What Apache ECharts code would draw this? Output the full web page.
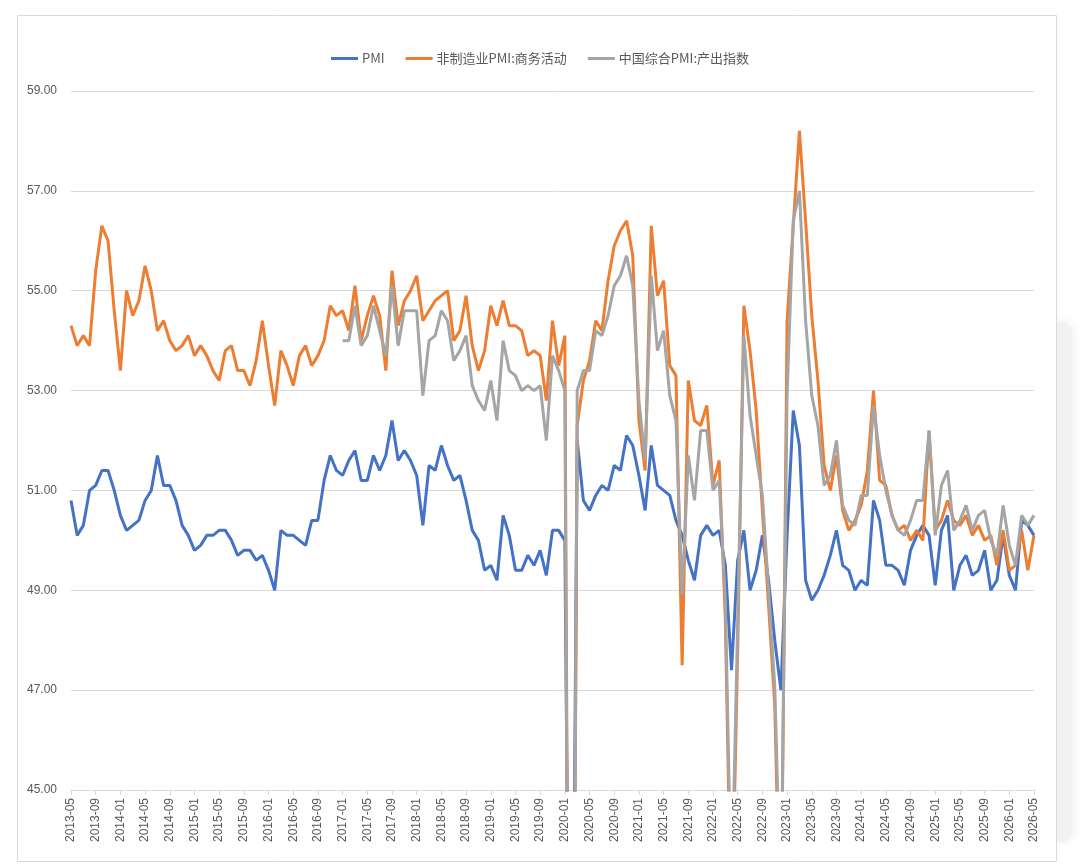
<!DOCTYPE html>
<html>
<head>
<meta charset="utf-8">
<title>PMI</title>
<script src="https://cdn.jsdelivr.net/npm/echarts@6/dist/echarts.min.js"></script>
<style>
  html, body { margin: 0; padding: 0; background: #fff; }
  #chart { width: 1080px; height: 867px; }
</style>
</head>
<body>
<div id="chart"></div>
<script>
// 月份 2013-05 ~ 2026-05
var months = [];
for (var y = 2013; y <= 2026; y++) {
    for (var m = 1; m <= 12; m++) {
        if ((y === 2013 && m < 5) || (y === 2026 && m > 5)) continue;
        months.push(y + '-' + (m < 10 ? '0' + m : m));
    }
}

// 制造业PMI
var pmi = [
    50.8, 50.1, 50.3, 51.0, 51.1, 51.4, 51.4, 51.0,                   // 2013
    50.5, 50.2, 50.3, 50.4, 50.8, 51.0, 51.7, 51.1, 51.1, 50.8, 50.3, 50.1, // 2014
    49.8, 49.9, 50.1, 50.1, 50.2, 50.2, 50.0, 49.7, 49.8, 49.8, 49.6, 49.7, // 2015
    49.4, 49.0, 50.2, 50.1, 50.1, 50.0, 49.9, 50.4, 50.4, 51.2, 51.7, 51.4, // 2016
    51.3, 51.6, 51.8, 51.2, 51.2, 51.7, 51.4, 51.7, 52.4, 51.6, 51.8, 51.6, // 2017
    51.3, 50.3, 51.5, 51.4, 51.9, 51.5, 51.2, 51.3, 50.8, 50.2, 50.0, 49.4, // 2018
    49.5, 49.2, 50.5, 50.1, 49.4, 49.4, 49.7, 49.5, 49.8, 49.3, 50.2, 50.2, // 2019
    50.0, 35.7, 52.0, 50.8, 50.6, 50.9, 51.1, 51.0, 51.5, 51.4, 52.1, 51.9, // 2020
    51.3, 50.6, 51.9, 51.1, 51.0, 50.9, 50.4, 50.1, 49.6, 49.2, 50.1, 50.3, // 2021
    50.1, 50.2, 49.5, 47.4, 49.6, 50.2, 49.0, 49.4, 50.1, 49.2, 48.0, 47.0, // 2022
    50.1, 52.6, 51.9, 49.2, 48.8, 49.0, 49.3, 49.7, 50.2, 49.5, 49.4, 49.0, // 2023
    49.2, 49.1, 50.8, 50.4, 49.5, 49.5, 49.4, 49.1, 49.8, 50.1, 50.3, 50.1, // 2024
    49.1, 50.2, 50.5, 49.0, 49.5, 49.7, 49.3, 49.4, 49.8, 49.0, 49.2, 50.1, // 2025
    49.3, 49.0, 50.4, 50.3, 50.1                                      // 2026
];

// 非制造业PMI:商务活动
var nonMfg = [
    54.3, 53.9, 54.1, 53.9, 55.4, 56.3, 56.0, 54.6,
    53.4, 55.0, 54.5, 54.8, 55.5, 55.0, 54.2, 54.4, 54.0, 53.8, 53.9, 54.1,
    53.7, 53.9, 53.7, 53.4, 53.2, 53.8, 53.9, 53.4, 53.4, 53.1, 53.6, 54.4,
    53.5, 52.7, 53.8, 53.5, 53.1, 53.7, 53.9, 53.5, 53.7, 54.0, 54.7, 54.5,
    54.6, 54.2, 55.1, 54.0, 54.5, 54.9, 54.5, 53.4, 55.4, 54.3, 54.8, 55.0,
    55.3, 54.4, 54.6, 54.8, 54.9, 55.0, 54.0, 54.2, 54.9, 53.9, 53.4, 53.8,
    54.7, 54.3, 54.8, 54.3, 54.3, 54.2, 53.7, 53.8, 53.7, 52.8, 54.4, 53.5,
    54.1, 29.6, 52.3, 53.2, 53.6, 54.4, 54.2, 55.2, 55.9, 56.2, 56.4, 55.7,
    52.4, 51.4, 56.3, 54.9, 55.2, 53.5, 53.3, 47.5, 53.2, 52.4, 52.3, 52.7,
    51.1, 51.6, 48.4, 41.9, 47.8, 54.7, 53.8, 52.6, 50.6, 48.7, 46.7, 41.6,
    54.4, 56.3, 58.2, 56.4, 54.5, 53.2, 51.5, 51.0, 51.7, 50.6, 50.2, 50.4,
    50.7, 51.4, 53.0, 51.2, 51.1, 50.5, 50.2, 50.3, 50.0, 50.2, 50.0, 52.2,
    50.2, 50.4, 50.8, 50.4, 50.3, 50.5, 50.1, 50.3, 50.0, 50.1, 49.5, 50.2,
    49.4, 49.5, 50.2, 49.4, 50.1
];

// 中国综合PMI:产出指数 (2017-01 起)
var compOut = [
    null, null, null, null, null, null, null, null,
    null, null, null, null, null, null, null, null, null, null, null, null,
    null, null, null, null, null, null, null, null, null, null, null, null,
    null, null, null, null, null, null, null, null, null, null, null, null,
    54.0, 54.0, 54.7, 53.9, 54.1, 54.7, 54.2, 53.7, 55.1, 53.9, 54.6, 54.6,
    54.6, 52.9, 54.0, 54.1, 54.6, 54.4, 53.6, 53.8, 54.1, 53.1, 52.8, 52.6,
    53.2, 52.4, 54.0, 53.4, 53.3, 53.0, 53.1, 53.0, 53.1, 52.0, 53.7, 53.4,
    53.0, 28.9, 53.0, 53.4, 53.4, 54.2, 54.1, 54.5, 55.1, 55.3, 55.7, 55.1,
    52.8, 51.6, 55.3, 53.8, 54.2, 52.9, 52.4, 48.9, 51.7, 50.8, 52.2, 52.2,
    51.0, 51.2, 48.8, 42.7, 48.4, 54.1, 52.5, 51.7, 50.9, 49.0, 47.1, 42.6,
    52.9, 56.4, 57.0, 54.4, 52.9, 52.3, 51.1, 51.3, 52.0, 50.7, 50.4, 50.3,
    50.9, 50.9, 52.7, 51.7, 51.0, 50.5, 50.2, 50.1, 50.4, 50.8, 50.8, 52.2,
    50.1, 51.1, 51.4, 50.2, 50.4, 50.7, 50.2, 50.5, 50.6, 50.0, 49.7, 50.7,
    49.9, 49.5, 50.5, 50.3, 50.5
];

var seriesNames = ['PMI', '非制造业PMI:商务活动', '中国综合PMI:产出指数'];
var colors = ['#4472C4', '#ED7D31', '#A5A5A5'];

var myChart = echarts.init(document.getElementById('chart'));

var option = {
    backgroundColor: '#fff',
    animation: false,
    color: colors,
    textStyle: { fontFamily: 'Liberation Sans, Noto Sans CJK SC, sans-serif' },
    graphic: [
        {
            type: 'rect',
            shape: { x: 1050, y: 322, width: 22, height: 520, r: 10 },
            style: { fill: '#f2f2f2', shadowBlur: 12, shadowColor: 'rgba(0,0,0,0.08)' },
            z: -2
        },
        {
            type: 'rect',
            shape: { x: 17.5, y: 15.5, width: 1039, height: 846 },
            style: { fill: '#fff', stroke: '#D9D9D9', lineWidth: 1 },
            z: -1
        }
    ],
    legend: {
        top: 47,
        left: 'center',
        itemGap: 21,
        itemWidth: 27,
        itemHeight: 3,
        icon: 'rect',
        textStyle: {
            color: '#595959',
            fontSize: 13,
            padding: [0, 0, 0, -1],
            fontFamily: 'Noto Sans CJK SC, sans-serif'
        },
        data: seriesNames
    },
    grid: {
        left: 71,
        right: 46,
        top: 91,
        bottom: 77,
        containLabel: false
    },
    xAxis: {
        type: 'category',
        data: months,
        boundaryGap: false,
        axisLine: { lineStyle: { color: '#D9D9D9', width: 1 } },
        axisTick: { show: true, interval: 3, length: 5, lineStyle: { color: '#D9D9D9' } },
        axisLabel: {
            interval: 3,
            rotate: 90,
            color: '#595959',
            fontSize: 12,
            margin: 8
        }
    },
    yAxis: {
        type: 'value',
        min: 45,
        max: 59,
        interval: 2,
        axisLine: { show: false },
        axisTick: { show: false },
        splitLine: { lineStyle: { color: '#D9D9D9', width: 1 } },
        axisLabel: {
            color: '#595959',
            fontSize: 12,
            margin: 14,
            formatter: function (v) { return v.toFixed(2); }
        }
    },
    series: [
        {
            name: seriesNames[0],
            type: 'line',
            data: pmi,
            symbol: 'none',
            clip: true,
            lineStyle: { width: 3, color: colors[0] }
        },
        {
            name: seriesNames[1],
            type: 'line',
            data: nonMfg,
            symbol: 'none',
            clip: true,
            lineStyle: { width: 3, color: colors[1] }
        },
        {
            name: seriesNames[2],
            type: 'line',
            data: compOut,
            symbol: 'none',
            clip: true,
            lineStyle: { width: 3, color: colors[2] }
        }
    ]
};

myChart.setOption(option);
</script>
</body>
</html>
